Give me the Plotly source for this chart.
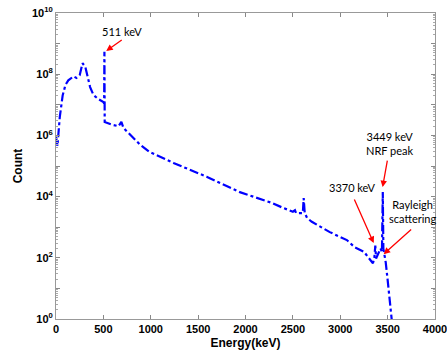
import plotly.graph_objects as go

energy = [0, 15, 40, 70, 100, 130, 185, 215, 250, 280, 310, 360, 395, 445, 500, 508, 511, 514,
          600, 660, 690, 712, 890, 985, 1240, 1595, 1940, 2280, 2395, 2500, 2522, 2533, 2605,
          2614, 2625, 2650, 2700, 2890, 3070, 3150, 3250, 3290, 3320, 3345, 3360, 3370, 3378,
          3400, 3425, 3440, 3449, 3455, 3468, 3480, 3500, 3520, 3545, 3560]
counts = [8.9e5, 4.5e5, 4.0e6, 2.0e7, 4.5e7, 6.3e7, 8.5e7, 7.6e7, 9.3e7, 2.3e8, 1.7e8, 3.8e7,
          2.1e7, 1.55e7, 1.23e7, 1.1e7, 5.4e8, 2.75e6,
          2.2e6, 2.0e6, 2.75e6, 1.75e6, 4.9e5, 2.9e5, 1.26e5, 4.4e4, 1.4e4, 6.2e3, 4.3e3,
          3.2e3, 3.6e3, 2.9e3, 2.9e3,
          8.9e3, 2.9e3, 2.0e3, 1.5e3, 690, 380, 224, 158, 112, 89, 66, 100, 250, 95,
          141, 200, 158, 1.4e4, 200, 126, 71, 19, 5.2, 1.1, 0.3]

x_ticks = [0, 500, 1000, 1500, 2000, 2500, 3000, 3500, 4000]
y_tickvals = [1, 10, 1e2, 1e3, 1e4, 1e5, 1e6, 1e7, 1e8, 1e9, 1e10]
y_ticktext = ["10<sup>0</sup>", "", "10<sup>2</sup>", "", "10<sup>4</sup>", "",
              "10<sup>6</sup>", "", "10<sup>8</sup>", "", "10<sup>10</sup>"]
minor_vals = [k * 10 ** n for n in range(10) for k in range(2, 10)]

fig = go.Figure()
fig.add_trace(go.Scatter(x=energy, y=counts, mode="lines",
                         line=dict(color="#0000ff", width=2.2, dash="dashdot"),
                         showlegend=False))

fig.update_xaxes(range=[0, 4000], tickvals=x_ticks, ticks="inside", ticklen=4,
                 tickcolor="#888", showline=True, linecolor="#999", linewidth=1,
                 mirror="allticks", showgrid=False, zeroline=False, automargin=False,
                 ticklabeloverflow="allow",
                 tickfont=dict(family="Liberation Sans, Arial", size=11, color="black", weight="bold"),
                 title=dict(text="<b>Energy(keV)</b>", font=dict(family="Liberation Sans, Arial", size=12, color="black"), standoff=4))
fig.update_yaxes(type="log", range=[0, 10], tickmode="array", tickvals=y_tickvals,
                 ticktext=y_ticktext, ticks="inside", ticklen=4, tickcolor="#888",
                 showline=True, linecolor="#999", linewidth=1, mirror="allticks",
                 showgrid=False, zeroline=False, automargin=False,
                 ticklabeloverflow="allow",
                 minor=dict(tickmode="array", tickvals=minor_vals, ticks="inside",
                            ticklen=2, tickcolor="#aaa", showgrid=False),
                 tickfont=dict(family="Liberation Sans, Arial", size=11, color="black", weight="bold"),
                 title=dict(text="<b>Count</b>", font=dict(family="Liberation Sans, Arial", size=12, color="black"), standoff=6))

ann_font = dict(family="Lato, Open Sans", size=11, color="black")
texts = [("511 keV", 700, 9.41), ("3449 keV<br>NRF peak", 3521, 5.75),
         ("3370 keV", 3132, 4.31), ("Rayleigh<br>scattering", 3763, 3.50)]
for t, x, ly in texts:
    fig.add_annotation(x=x, y=ly, text=t, showarrow=False, font=ann_font, align="center")

arrows = [(530, 8.76, 17, -12), (3447, 4.31, 5, -28), (3353, 2.48, -20, -45), (3458, 2.12, 29, -26)]
for x, ly, ax, ay in arrows:
    fig.add_annotation(x=x, y=ly, ax=ax, ay=ay, text="", showarrow=True,
                       arrowhead=2, arrowsize=1, arrowwidth=1.3, arrowcolor="red")

fig.update_layout(width=447, height=354, margin=dict(l=55.5, r=11.5, t=13, b=35),
                  plot_bgcolor="white", paper_bgcolor="white")
fig.write_html("out.html")
